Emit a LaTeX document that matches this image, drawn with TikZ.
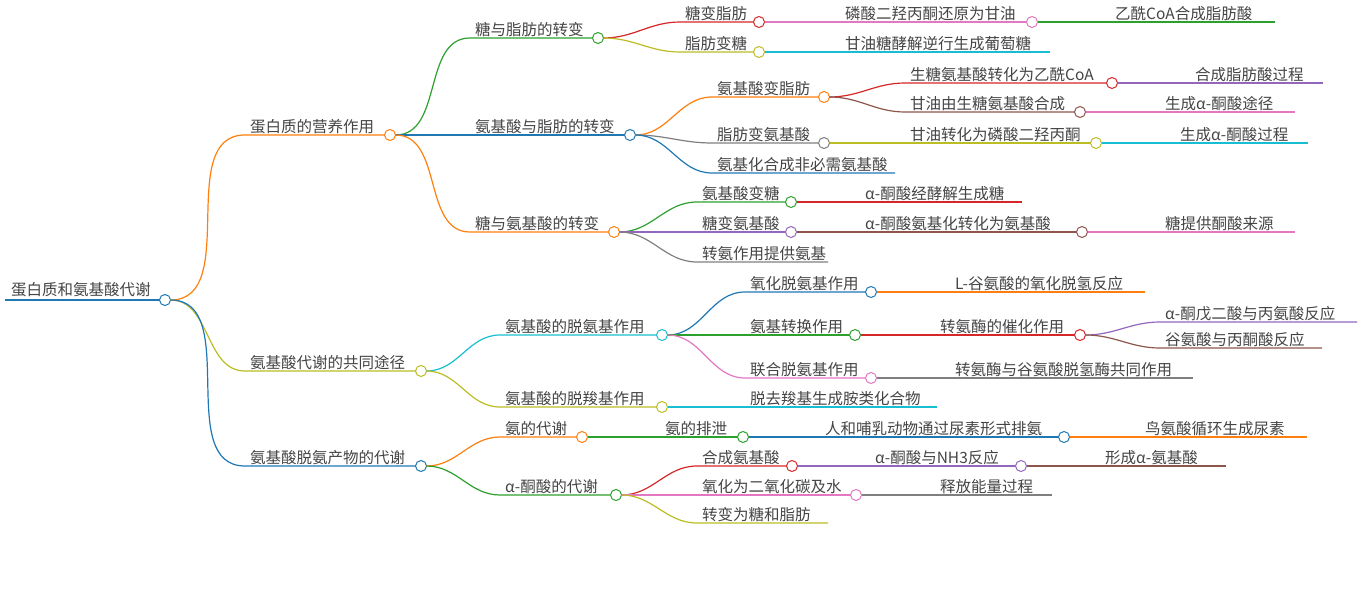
\documentclass[tikz,border=0pt]{standalone}
\usepackage{fontspec}
\setmainfont{Noto Sans CJK SC}
\definecolor{cb}{HTML}{1F77B4}\definecolor{co}{HTML}{FF7F0E}\definecolor{cg}{HTML}{2CA02C}
\definecolor{cr}{HTML}{D62728}\definecolor{cp}{HTML}{9467BD}\definecolor{cbr}{HTML}{8C564B}
\definecolor{cpk}{HTML}{E377C2}\definecolor{cgy}{HTML}{7F7F7F}\definecolor{col}{HTML}{BCBD22}
\definecolor{cc}{HTML}{17BECF}\definecolor{tx}{HTML}{444444}
\tikzset{txt/.style={text=tx,font=\fontsize{15.5}{17}\selectfont,inner sep=1pt}}
\newcommand\br[8]{%
 \coordinate (#1s) at (#3,#5); \coordinate (#1) at (#4,#5);
 \draw[#6,line width=1.2pt] ([xshift=5.5pt]#2) to[out=0,in=180] (#1s) -- (#1);
 \node[txt,anchor=south west] (#1t) at (#3+4,#5) {#7};
 \ifnum#8=1 \draw[#6,fill=white,line width=1pt] (#1) circle (5.5pt);\fi}
\begin{document}
\begin{tikzpicture}[x=1pt,y=-1pt]
\useasboundingbox (0,0) rectangle (1363,613);
\coordinate (rs) at (5,300); \coordinate (r) at (165,300);
\draw[cb,line width=2.5pt] (rs) -- (r);
\node[txt,anchor=south west] (rt) at (10,298) {蛋白质和氨基酸代谢};
\draw[cb,fill=white,line width=1pt] (r) circle (5.5pt);
\br{a}{r}{245}{390}{135}{co}{蛋白质的营养作用}{1}
\br{b}{r}{245}{421}{371}{col}{氨基酸代谢的共同途径}{1}
\br{c}{r}{245}{421}{466}{cb}{氨基酸脱氨产物的代谢}{1}
\br{a1}{a}{470}{598}{38}{cg}{糖与脂肪的转变}{1}
\br{a2}{a}{470}{630}{135}{cb}{氨基酸与脂肪的转变}{1}
\br{a3}{a}{470}{614}{232}{co}{糖与氨基酸的转变}{1}
\br{a11}{a1}{680}{759}{22}{cr}{糖变脂肪}{1}
\br{a111}{a11}{840}{1032}{22}{cpk}{磷酸二羟丙酮还原为甘油}{1}
\br{a1111}{a111}{1110}{1275}{22}{cg}{乙酰CoA合成脂肪酸}{0}
\br{a12}{a1}{680}{759}{52}{col}{脂肪变糖}{1}
\br{a121}{a12}{840}{1050}{52}{cc}{甘油糖酵解逆行生成葡萄糖}{0}
\br{a21}{a2}{712}{824}{97}{co}{氨基酸变脂肪}{1}
\br{a211}{a21}{905}{1112}{83}{cr}{生糖氨基酸转化为乙酰CoA}{1}
\br{a2111}{a211}{1190}{1323}{83}{cp}{合成脂肪酸过程}{0}
\br{a212}{a21}{905}{1080}{112}{cbr}{甘油由生糖氨基酸合成}{1}
\br{a2121}{a212}{1160}{1295}{112}{cpk}{生成α-酮酸途径}{0}
\br{a22}{a2}{712}{824}{143}{cgy}{脂肪变氨基酸}{1}
\br{a221}{a22}{905}{1096}{143}{col}{甘油转化为磷酸二羟丙酮}{1}
\br{a2211}{a221}{1175}{1308}{143}{cc}{生成α-酮酸过程}{0}
\br{a23}{a2}{712}{895}{173}{cb}{氨基化合成非必需氨基酸}{0}
\br{a31}{a3}{697}{791}{202}{cg}{氨基酸变糖}{1}
\br{a311}{a31}{860}{1022}{202}{cr}{α-酮酸经酵解生成糖}{0}
\br{a32}{a3}{697}{791}{232}{cp}{糖变氨基酸}{1}
\br{a321}{a32}{860}{1082}{232}{cbr}{α-酮酸氨基化转化为氨基酸}{1}
\br{a3211}{a321}{1160}{1295}{232}{cpk}{糖提供酮酸来源}{0}
\br{a33}{a3}{697}{828}{262}{cgy}{转氨作用提供氨基}{0}
\br{b1}{b}{500}{662}{335}{cc}{氨基酸的脱氨基作用}{1}
\br{b11}{b1}{745}{871}{292}{cb}{氧化脱氨基作用}{1}
\br{b111}{b11}{950}{1145}{292}{co}{L-谷氨酸的氧化脱氢反应}{0}
\br{b12}{b1}{745}{855}{335}{cg}{氨基转换作用}{1}
\br{b121}{b12}{935}{1080}{335}{cr}{转氨酶的催化作用}{1}
\br{b1211}{b121}{1160}{1357}{322}{cp}{α-酮戊二酸与丙氨酸反应}{0}
\br{b1212}{b121}{1160}{1322}{348}{cbr}{谷氨酸与丙酮酸反应}{0}
\br{b13}{b1}{745}{871}{378}{cpk}{联合脱氨基作用}{1}
\br{b131}{b13}{950}{1193}{378}{cgy}{转氨酶与谷氨酸脱氢酶共同作用}{0}
\br{b2}{b}{500}{662}{407}{col}{氨基酸的脱羧基作用}{1}
\br{b21}{b2}{745}{937}{407}{cc}{脱去羧基生成胺类化合物}{0}
\br{c1}{c}{500}{582}{437}{co}{氨的代谢}{1}
\br{c11}{c1}{660}{743}{437}{cg}{氨的排泄}{1}
\br{c111}{c11}{820}{1064}{437}{cb}{人和哺乳动物通过尿素形式排氨}{1}
\br{c1111}{c111}{1140}{1307}{437}{co}{鸟氨酸循环生成尿素}{0}
\br{c2}{c}{500}{616}{495}{cg}{α-酮酸的代谢}{1}
\br{c21}{c2}{697}{792}{466}{cr}{合成氨基酸}{1}
\br{c211}{c21}{870}{1021}{466}{cp}{α-酮酸与NH3反应}{1}
\br{c2111}{c211}{1100}{1226}{466}{cbr}{形成α-氨基酸}{0}
\br{c22}{c2}{697}{856}{495}{cpk}{氧化为二氧化碳及水}{1}
\br{c221}{c22}{935}{1052}{495}{cgy}{释放能量过程}{0}
\br{c23}{c2}{697}{828}{523}{col}{转变为糖和脂肪}{0}
\end{tikzpicture}
\end{document}
